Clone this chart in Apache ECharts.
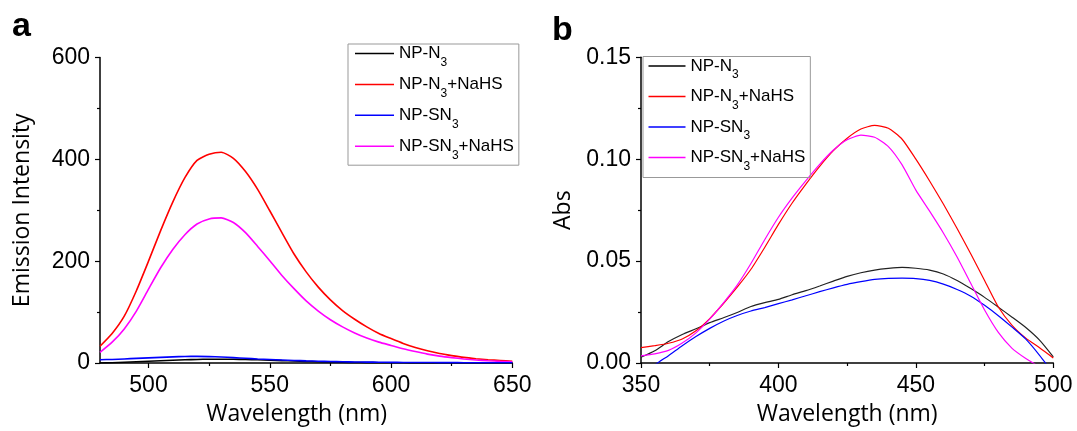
<!DOCTYPE html>
<html>
<head>
<meta charset="utf-8">
<script src="https://cdn.jsdelivr.net/npm/echarts@6/dist/echarts.min.js"></script>
<style>html,body{margin:0;padding:0;background:#fff;}#c{width:1077px;height:431px;}</style>
</head>
<body>
<div id="c"></div>
<script>
// ---------- data ----------
const seriesNames = ['NP-N3', 'NP-N3+NaHS', 'NP-SN3', 'NP-SN3+NaHS'];
const legendLabels = ['{n|NP-N}{s|3}', '{n|NP-N}{s|3}{n|+NaHS}', '{n|NP-SN}{s|3}', '{n|NP-SN}{s|3}{n|+NaHS}'];
const seriesColors = ['#000000', '#ff0000', '#0000ff', '#ff00ff'];

// panel a : emission
const wlA = [480,485,490,495,500,505,510,515,520,525,530,535,540,545,550,555,560,565,570,575,580,585,590,595,600,605,610,615,620,625,630,635,640,645,650];
const emNP_N3 = [0,0.5,1.5,2.5,3.5,4.5,5.5,6.3,7,7.4,7.5,7.3,7,6.3,5.5,4.7,4,3.2,2.5,2,1.5,1.1,0.8,0.6,0.4,0.35,0.3,0.25,0.2,0.2,0.2,0.15,0.1,0.1,0.1];
const emNP_N3_NaHS = [33,58,92,142,200,260,316,364,398,410,414,402,376,341,299,256,214,179,149,124,103,86,71,58,48,38.5,30.5,24,18.5,14.5,11,8.5,6.5,5,3.5];
const emNP_SN3 = [6.5,7,8,9,10,11,12,12.8,13,12.6,11.8,10.5,9.2,8,7,6,5,4.2,3.5,3,2.5,2.1,1.8,1.5,1.3,1.1,1,0.9,0.8,0.7,0.6,0.55,0.5,0.45,0.4];
const emNP_SN3_NaHS = [21,41,67,102,145,187,223,252,273,283,285,276,256,229,201,172,146,122,102,85,71,59,49,41,34.5,28,22.5,17.5,13.5,10.5,8,6,4.5,3.2,2.5];
const xLabelsA = [500,550,600,650];
const xMinorA = [525,575,625];

// panel b : absorbance
const wlB = [350,355,360,365,370,375,380,385,390,395,400,405,410,415,420,425,430,435,440,445,450,455,460,465,470,475,480,485,490,495,500];
const absNP_N3 = [0.0028,0.006,0.0105,0.014,0.0168,0.0198,0.0222,0.0248,0.0277,0.0296,0.0312,0.0335,0.0355,0.0378,0.0402,0.0425,0.0443,0.0456,0.0464,0.0469,0.0465,0.0456,0.0437,0.0405,0.0365,0.0322,0.0274,0.0225,0.0174,0.0112,0.003];
const absNP_N3_NaHS = [0.0075,0.0085,0.0097,0.0118,0.0158,0.0218,0.0292,0.0372,0.046,0.0567,0.068,0.0785,0.0878,0.0965,0.1042,0.1103,0.1148,0.1166,0.1152,0.1098,0.1,0.0893,0.078,0.066,0.0535,0.0405,0.0275,0.0185,0.0122,0.0075,0.0025];
const absNP_SN3 = [-0.007,-0.001,0.0036,0.0085,0.013,0.017,0.0205,0.0233,0.0255,0.0272,0.0291,0.031,0.033,0.035,0.0369,0.0386,0.0399,0.041,0.0415,0.0416,0.0414,0.0405,0.0387,0.0361,0.0328,0.0283,0.0232,0.0176,0.0117,0.0038,-0.005];
const absNP_SN3_NaHS = [0.0035,0.0045,0.0062,0.0098,0.0148,0.0215,0.0295,0.0382,0.0488,0.0605,0.0715,0.081,0.0895,0.0975,0.1045,0.1095,0.1118,0.1108,0.1062,0.0972,0.0848,0.0745,0.0638,0.052,0.039,0.026,0.015,0.0072,0.0022,-0.002,-0.008];

// ---------- chart ----------
const tickFont = 'Liberation Sans, Arial, sans-serif';
const titleFont = 'Open Sans, sans-serif';
const pair = (xs, ys) => xs.map((x, i) => [x, ys[i]]);

const legendRich = {
  n: { fontFamily: tickFont, fontSize: 17, color: '#000', lineHeight: 20, verticalAlign: 'middle' },
  s: { fontFamily: tickFont, fontSize: 12, color: '#000', lineHeight: 12, verticalAlign: 'middle', padding: [9, 0, -9, 0] }
};
function legendFmt(name) {
  return legendLabels[seriesNames.indexOf(name)];
}

const axisCommon = {
  axisLine: { show: true, onZero: false, lineStyle: { color: '#000', width: 1.5 } },
  axisTick: { show: true, inside: false, length: 5, lineStyle: { color: '#000', width: 1.2 } },
  minorTick: { show: true, splitNumber: 2, length: 3, lineStyle: { color: '#000', width: 1.2 } },
  splitLine: { show: false },
  minorSplitLine: { show: false },
  axisLabel: { color: '#000', fontFamily: tickFont, fontSize: 23 },
  nameTextStyle: { color: '#000', fontFamily: titleFont, fontSize: 23 },
  nameLocation: 'middle'
};

function mk(base, extra) {
  const o = JSON.parse(JSON.stringify(base));
  for (const k in extra) {
    if (typeof extra[k] === 'object' && !Array.isArray(extra[k]) && o[k]) Object.assign(o[k], extra[k]);
    else o[k] = extra[k];
  }
  return o;
}

const emData = [emNP_N3, emNP_N3_NaHS, emNP_SN3, emNP_SN3_NaHS];
const absData = [absNP_N3, absNP_N3_NaHS, absNP_SN3, absNP_SN3_NaHS];

const series = [];
emData.forEach((d, i) => series.push({
  name: seriesNames[i], type: 'line', xAxisIndex: 0, yAxisIndex: 0,
  data: pair(wlA, d), showSymbol: false, symbol: 'none', smooth: 0.2,
  lineStyle: { color: seriesColors[i], width: 1.6 }, itemStyle: { color: seriesColors[i] },
  z: i === 2 ? 5 : 3, animation: false
}));
absData.forEach((d, i) => series.push({
  name: seriesNames[i], type: 'line', xAxisIndex: 2, yAxisIndex: 1,
  data: pair(wlB, d), showSymbol: false, symbol: 'none', smooth: 0.2, clip: true,
  lineStyle: { color: i === 0 ? '#222' : seriesColors[i], width: 1.2 }, itemStyle: { color: seriesColors[i] },
  animation: false
}));

const legendBase = {
  orient: 'vertical', data: seriesNames, icon: 'rect', itemHeight: 1.5,
  borderColor: '#999', borderWidth: 1,
  formatter: legendFmt, textStyle: { rich: legendRich },
  selectedMode: false
};

const option = {
  backgroundColor: '#fff',
  animation: false,
  grid: [
    { left: 100, top: 57.5, width: 412.3, height: 307.5 },
    { left: 641, top: 57.3, width: 412.3, height: 306.7 }
  ],
  xAxis: [
    mk(axisCommon, {
      gridIndex: 0, type: 'value', min: 480, max: 650, position: 'bottom',
      name: 'Wavelength (nm)', nameGap: 40,
      nameTextStyle: { padding: [0, 19, 0, 0] },
      axisLabel: { margin: 11, customValues: xLabelsA },
      axisTick: { customValues: xLabelsA },
      minorTick: { show: false }
    }),
    mk(axisCommon, {
      gridIndex: 0, type: 'value', min: 480, max: 650, position: 'bottom',
      axisLine: { show: false },
      axisLabel: { show: false },
      axisTick: { customValues: xMinorA, length: 3 },
      minorTick: { show: false }
    }),
    mk(axisCommon, {
      gridIndex: 1, type: 'value', min: 350, max: 500, interval: 50, position: 'bottom',
      name: 'Wavelength (nm)', nameGap: 40,
      axisLabel: { margin: 11 }
    })
  ],
  yAxis: [
    mk(axisCommon, {
      gridIndex: 0, type: 'value', min: 0, max: 600, interval: 200,
      name: 'Emission Intensity', nameGap: 66,
      axisLabel: { margin: 10 }
    }),
    mk(axisCommon, {
      gridIndex: 1, type: 'value', min: 0, max: 0.15, interval: 0.05,
      name: 'Abs', nameGap: 66,
      axisLabel: { margin: 10, formatter: v => v.toFixed(2) }
    })
  ],
  legend: [
    Object.assign({}, legendBase, {
      left: 348, top: 44, itemWidth: 39, itemGap: 7.4, padding: [1, 5, 4, 7]
    }),
    Object.assign({}, legendBase, {
      left: 643, top: 56.5, itemWidth: 37, itemGap: 7, padding: [1, 5, 5, 5.5]
    })
  ],
  graphic: [
    { type: 'text', left: 12, top: 10, style: { text: 'a', font: 'bold 34px Liberation Sans, Arial, sans-serif', fill: '#000' } },
    { type: 'text', left: 552, top: 14, style: { text: 'b', font: 'bold 34px Liberation Sans, Arial, sans-serif', fill: '#000' } }
  ],
  series: series
};

const chart = echarts.init(document.getElementById('c'), null, { renderer: 'canvas' });
chart.setOption(option);
</script>
</body>
</html>
